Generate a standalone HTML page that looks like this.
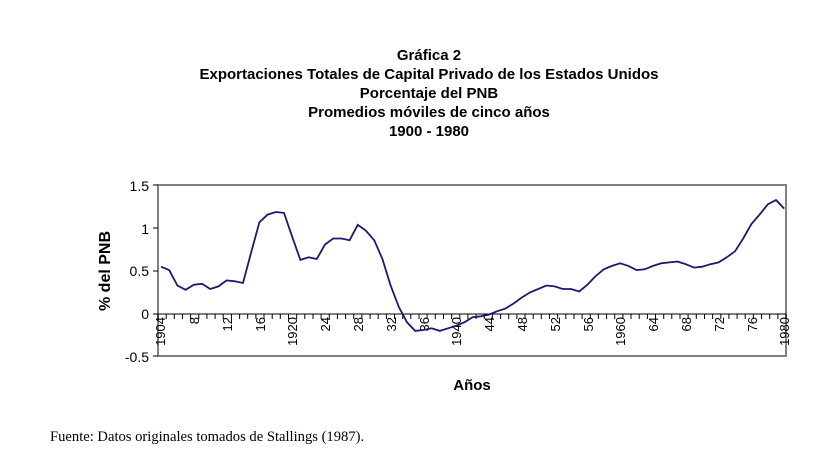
<!DOCTYPE html>
<html><head><meta charset="utf-8"><style>
body{margin:0;background:#fff;width:833px;height:469px;overflow:hidden}
svg{display:block}
</style></head><body>
<svg id="s" width="833" height="469" xmlns="http://www.w3.org/2000/svg" font-family="Liberation Sans, Arial, sans-serif">
<g font-weight="bold" font-size="15" text-anchor="middle" fill="#000">
<text x="429" y="60">Gráfica 2</text>
<text x="429" y="79">Exportaciones Totales de Capital Privado de los Estados Unidos</text>
<text x="429" y="98">Porcentaje del PNB</text>
<text x="429" y="117">Promedios móviles de cinco años</text>
<text x="429" y="136">1900 - 1980</text>
<text x="472" y="390">Años</text>
<text transform="translate(110,271) rotate(-90)" font-size="16">% del PNB</text>
</g>
<rect x="158" y="185" width="628" height="171" fill="none" stroke="#808080" stroke-width="2"/>
<g font-size="14" text-anchor="end" fill="#000">
<text x="149" y="191">1.5</text>
<text x="149" y="234">1</text>
<text x="149" y="276">0.5</text>
<text x="149" y="319">0</text>
<text x="149" y="362">-0.5</text>
</g>
<g stroke="#000" stroke-width="1">
<line x1="153" y1="185" x2="158" y2="185"/><line x1="153" y1="228" x2="158" y2="228"/><line x1="153" y1="271" x2="158" y2="271"/><line x1="153" y1="314" x2="158" y2="314"/><line x1="153" y1="356" x2="158" y2="356"/>
<line x1="158" y1="314" x2="786" y2="314"/>
</g>
<g id="ticks" stroke="#000" stroke-width="1"></g>
<g font-size="13" fill="#000" text-anchor="end">
<text transform="translate(165,317) rotate(-90)">1904</text>
<text transform="translate(199,317) rotate(-90)">8</text>
<text transform="translate(232,317) rotate(-90)">12</text>
<text transform="translate(265,317) rotate(-90)">16</text>
<text transform="translate(297,317) rotate(-90)">1920</text>
<text transform="translate(330,317) rotate(-90)">24</text>
<text transform="translate(363,317) rotate(-90)">28</text>
<text transform="translate(396,317) rotate(-90)">32</text>
<text transform="translate(429,317) rotate(-90)">36</text>
<text transform="translate(461,317) rotate(-90)">1940</text>
<text transform="translate(494,317) rotate(-90)">44</text>
<text transform="translate(527,317) rotate(-90)">48</text>
<text transform="translate(560,317) rotate(-90)">52</text>
<text transform="translate(593,317) rotate(-90)">56</text>
<text transform="translate(625,317) rotate(-90)">1960</text>
<text transform="translate(658,317) rotate(-90)">64</text>
<text transform="translate(691,317) rotate(-90)">68</text>
<text transform="translate(724,317) rotate(-90)">72</text>
<text transform="translate(757,317) rotate(-90)">76</text>
<text transform="translate(789,317) rotate(-90)">1980</text>
</g>
<polyline id="line" fill="none" stroke="#1a1a6e" stroke-width="1.8" points=""/>
<text x="50" y="441" font-family="Liberation Serif, serif" font-size="14.6" fill="#000">Fuente: Datos originales tomados de Stallings (1987).</text>
</svg>
<script>
var d=[0.55,0.51,0.33,0.28,0.34,0.35,0.29,0.32,0.39,0.38,0.36,0.72,1.07,1.16,1.19,1.18,0.9,0.63,0.66,0.64,0.81,0.88,0.88,0.86,1.04,0.97,0.86,0.64,0.33,0.08,-0.10,-0.2,-0.19,-0.17,-0.2,-0.17,-0.14,-0.1,-0.04,-0.03,-0.01,0.03,0.06,0.12,0.19,0.25,0.29,0.33,0.32,0.29,0.29,0.26,0.34,0.44,0.52,0.56,0.59,0.56,0.51,0.52,0.56,0.59,0.60,0.61,0.58,0.54,0.55,0.58,0.60,0.66,0.73,0.88,1.05,1.16,1.28,1.33,1.23];
var p=[];for(var i=0;i<d.length;i++){p.push((161+i*8.2).toFixed(1)+","+(313.75-d[i]*85.5).toFixed(1));}
document.getElementById("line").setAttribute("points",p.join(" "));
var g=document.getElementById("ticks"),h="";
for(var i=0;i<=77;i++){var x=(158+i*8.156).toFixed(1);h+='<line x1="'+x+'" y1="314" x2="'+x+'" y2="319"/>';}
g.innerHTML=h;
</script>
</body></html>
